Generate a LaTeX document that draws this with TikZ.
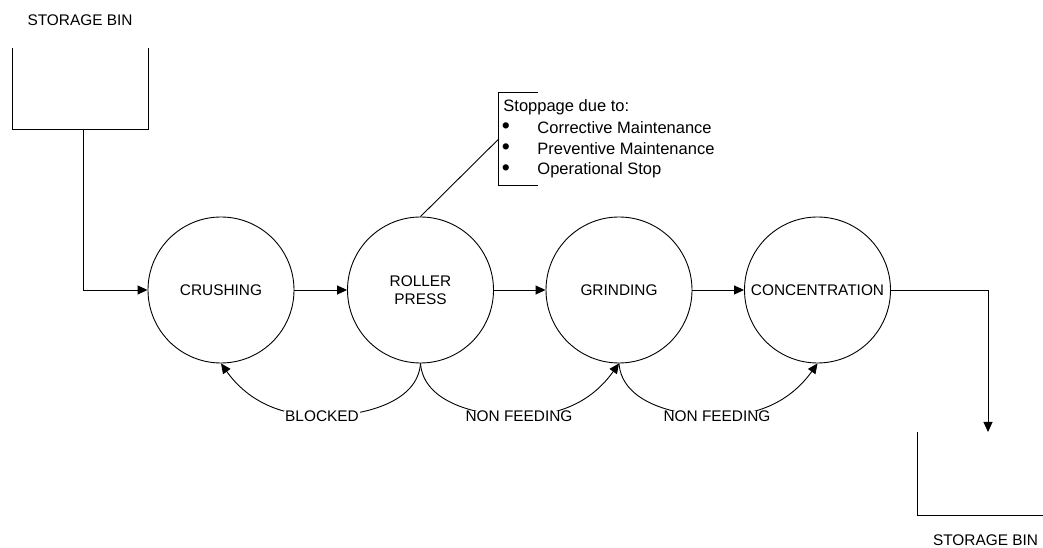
\documentclass[tikz,border=0pt]{standalone}
\usepackage{fontspec}
\setmainfont{Liberation Sans}
\usetikzlibrary{arrows.meta}
\begin{document}
\begin{tikzpicture}[x=1pt,y=1pt,
  line width=0.9pt,
  txt/.style={font=\fontsize{15.4}{18.3}\selectfont, inner sep=0pt},
  ctxt/.style={font=\fontsize{16.5}{21}\selectfont, inner sep=0pt, anchor=west},
  bul/.style={font=\fontsize{23}{21}\selectfont, inner sep=0pt},
  stage/.style={circle, draw, minimum size=146pt, inner sep=0pt, align=center, font=\fontsize{15.4}{18.3}\selectfont},
  arr/.style={-{Triangle[length=10pt,width=9pt]}},
  lbl/.style={txt, fill=white, inner xsep=1pt}
]
\useasboundingbox (0,0) rectangle (1043,548);

% storage bins
\draw (12,500) -- (12,419) -- (148,419) -- (148,500);
\node[txt] (bin1) at (80,527.5) {STORAGE BIN};
\coordinate (bin1out) at (83,419);
\draw (917,116) -- (917,33) -- (1043,33);
\node[txt] (bin2) at (985.5,8) {STORAGE BIN};
\coordinate (bin2in) at (988,116);

% stages
\node[stage] (cr) at (221,258) {CRUSHING};
\node[stage] (rp) at (420.5,258) {ROLLER\\PRESS};
\node[stage] (gr) at (619,258) {GRINDING};
\node[stage] (co) at (817.5,258) {CONCENTRATION};

% main flow
\draw[arr] (bin1out) |- (cr.west);
\draw[arr] (cr.east) -- (rp.west);
\draw[arr] (rp.east) -- (gr.west);
\draw[arr] (gr.east) -- (co.west);
\draw[arr] (co.east) -| (bin2in);

% feedback curves
\coordinate (mb) at (322,132);
\coordinate (mn1) at (519,132);
\coordinate (mn2) at (717,132);
\draw[arr] (rp.south) .. controls +(-3,-40) and +(40,0) .. (mb)
  .. controls +(-45,0) and +(25,-35) .. (cr.south);
\draw[arr] (rp.south) .. controls +(3,-40) and +(-40,0) .. (mn1)
  .. controls +(45,0) and +(-25,-35) .. (gr.south);
\draw[arr] (gr.south) .. controls +(3,-40) and +(-40,0) .. (mn2)
  .. controls +(45,0) and +(-25,-35) .. (co.south);
\node[lbl] (lblb) at (mb) {BLOCKED};
\node[lbl] (lbln1) at (mn1) {NON FEEDING};
\node[lbl] (lbln2) at (mn2) {NON FEEDING};

% callout
\coordinate (ctl) at (538,455.3);
\coordinate (cbl) at (538,363);
\coordinate (cpt) at (498.7,409);
\draw (ctl) -- (498.7,455.3) -- (498.7,363) -- (cbl);
\draw (cpt) -- (rp.north);
\node[ctxt] (c0) at (503,441) {Stoppage due to:};
\node[bul] (b1) at (506,420) {\textbullet};
\node[ctxt] (c1) at (537,420) {Corrective Maintenance};
\node[bul] (b2) at (506,399) {\textbullet};
\node[ctxt] (c2) at (537,399) {Preventive Maintenance};
\node[bul] (b3) at (506,378) {\textbullet};
\node[ctxt] (c3) at (537,378) {Operational Stop};
\end{tikzpicture}
\end{document}
